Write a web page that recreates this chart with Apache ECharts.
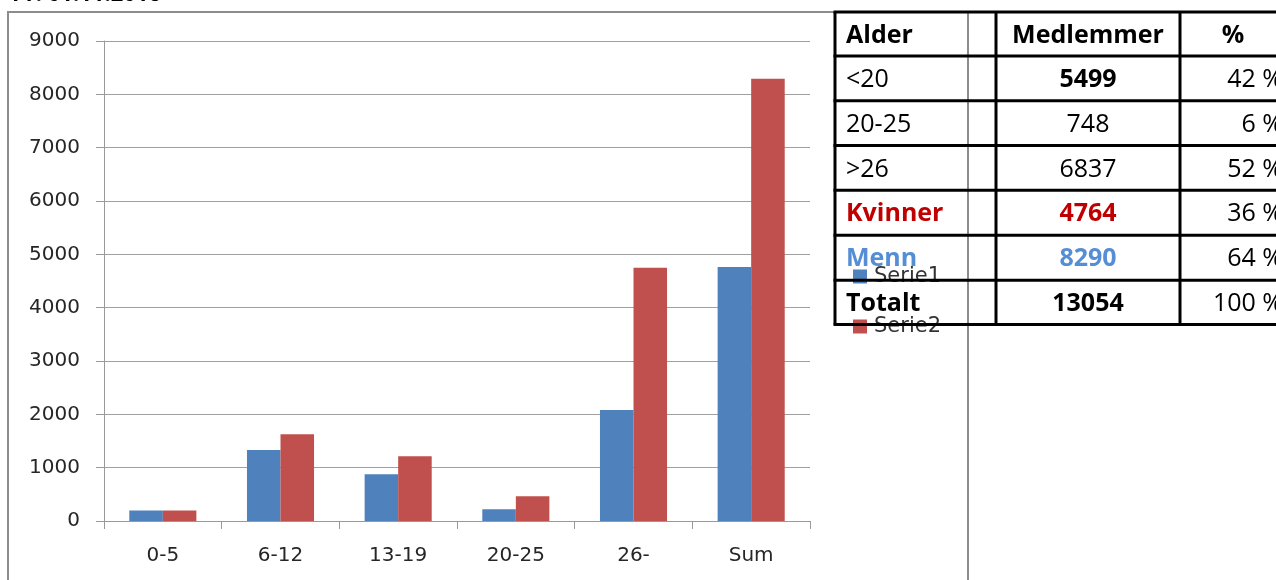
<!DOCTYPE html>
<html>
<head>
<meta charset="utf-8">
<script src="https://cdn.jsdelivr.net/npm/echarts@6/dist/echarts.min.js"></script>
<style>
html,body{margin:0;padding:0;background:#fff;}
#c{width:1276px;height:580px;}
</style>
</head>
<body>
<div id="c"></div>
<script>
// ---- chart data ----
var categories = ['0-5', '6-12', '13-19', '20-25', '26-', 'Sum'];
var serie1 = [195, 1330, 875, 220, 2080, 4764];
var serie2 = [195, 1625, 1215, 465, 4750, 8290];
var yTicks = [0, 1000, 2000, 3000, 4000, 5000, 6000, 7000, 8000, 9000];

// ---- table data ----
var tableHeader = ['Alder', 'Medlemmer', '%'];
var tableAge = ['<20', '20-25', '>26', 'Kvinner', 'Menn', 'Totalt'];
var tableCount = ['5499', '748', '6837', '4764', '8290', '13054'];
var tablePct = ['42 %', '6 %', '52 %', '36 %', '64 %', '100 %'];
var titleText = 'Pr. 01.11.2016';

// styling per table row (not data)
var rowColor = ['#000', '#000', '#000', '#C00000', '#558ED5', '#000'];
var ageBold = [false, false, false, true, true, true];
var countBold = [true, false, false, true, true, true];

var chart = echarts.init(document.getElementById('c'));

var TF = '"Open Sans", sans-serif';
var colX = [835, 996, 1180, 1290];
var rowY = [12, 56, 100.7, 145.5, 190.3, 235.3, 280.3, 324.5];

var g = [];
// chart frame
g.push({type: 'rect', shape: {x: 8, y: 12, width: 960, height: 620}, style: {fill: 'none', stroke: '#8c8c8c', lineWidth: 2}, z: 1, silent: true});
// title (clipped at top)
g.push({type: 'text', x: 12, y: 6, style: {text: titleText, font: 'bold 22px "Open Sans", sans-serif', fill: '#000', textVerticalAlign: 'bottom', textAlign: 'left'}, z: 100});

// table lines
for (var i = 0; i < rowY.length; i++) {
  g.push({type: 'line', shape: {x1: colX[0] - 1.5, y1: rowY[i], x2: 1290, y2: rowY[i]}, style: {stroke: '#000', lineWidth: 3}, z: 100});
}
for (var j = 0; j < 3; j++) {
  g.push({type: 'line', shape: {x1: colX[j], y1: rowY[0], x2: colX[j], y2: rowY[rowY.length - 1]}, style: {stroke: '#000', lineWidth: 3}, z: 100});
}
function cy(r) { return (rowY[r] + rowY[r + 1]) / 2 + 1.5; }
// header
g.push({type: 'text', x: 846, y: cy(0), style: {text: tableHeader[0], font: 'bold 25px ' + TF, fill: '#000', textVerticalAlign: 'middle', textAlign: 'left'}, z: 101});
g.push({type: 'text', x: 1088, y: cy(0), style: {text: tableHeader[1], font: 'bold 25px ' + TF, fill: '#000', textVerticalAlign: 'middle', textAlign: 'center'}, z: 101});
g.push({type: 'text', x: 1233, y: cy(0), style: {text: tableHeader[2], font: 'bold 25px ' + TF, fill: '#000', textVerticalAlign: 'middle', textAlign: 'center'}, z: 101});
for (var r = 0; r < tableAge.length; r++) {
  var y = cy(r + 1);
  g.push({type: 'text', x: 846, y: y, style: {text: tableAge[r], font: (ageBold[r] ? 'bold ' : '') + '25px ' + TF, fill: rowColor[r], textVerticalAlign: 'middle', textAlign: 'left'}, z: 101});
  g.push({type: 'text', x: 1088, y: y, style: {text: tableCount[r], font: (countBold[r] ? 'bold ' : '') + '25px ' + TF, fill: rowColor[r], textVerticalAlign: 'middle', textAlign: 'center'}, z: 101});
  g.push({type: 'text', x: 1283, y: y, style: {text: tablePct[r], font: '25px ' + TF, fill: '#000', textVerticalAlign: 'middle', textAlign: 'right'}, z: 101});
}

var AF = '"DejaVu Sans", sans-serif';
chart.setOption({
  animation: false,
  backgroundColor: '#fff',
  grid: {left: 104, top: 41, width: 706, height: 480, containLabel: false},
  legend: {
    orient: 'vertical', left: 853, top: 266, padding: 0, itemWidth: 14, itemHeight: 14, itemGap: 29,
    icon: 'rect', z: 4,
    textStyle: {fontFamily: AF, fontSize: 21, lineHeight: 20, color: '#333', padding: [0, 0, 0, 2]},
    data: ['Serie1', 'Serie2']
  },
  xAxis: {
    type: 'category', data: categories,
    axisLine: {lineStyle: {color: '#999', width: 1}},
    axisTick: {show: true, length: 8, lineStyle: {color: '#999'}},
    axisLabel: {fontFamily: AF, fontSize: 20, color: '#262626', margin: 25}
  },
  yAxis: {
    type: 'value', min: yTicks[0], max: yTicks[yTicks.length - 1], interval: 1000,
    axisLine: {show: true, lineStyle: {color: '#999', width: 1}},
    axisTick: {show: true, length: 8, lineStyle: {color: '#999'}},
    splitLine: {lineStyle: {color: '#a0a0a0', width: 1}},
    axisLabel: {fontFamily: AF, fontSize: 20, color: '#262626', margin: 24, formatter: function (v) { return String(v); }}
  },
  series: [
    {name: 'Serie1', type: 'bar', data: serie1, barGap: '0%', barCategoryGap: '43%', itemStyle: {color: '#4F81BD'}},
    {name: 'Serie2', type: 'bar', data: serie2, barGap: '0%', barCategoryGap: '43%', itemStyle: {color: '#C0504D'}}
  ],
  graphic: {elements: g}
});
</script>
</body>
</html>
